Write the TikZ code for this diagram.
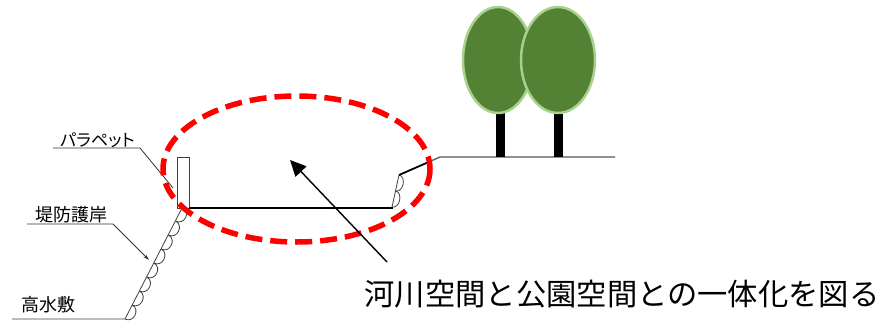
\documentclass[tikz,border=0pt]{standalone}
\usepackage{fontspec}
\newfontfamily\jp{Noto Sans CJK JP}
\newfontfamily\jpprop[RawFeature=+palt]{Noto Sans CJK JP}
\usetikzlibrary{arrows.meta}
\definecolor{crown}{HTML}{548235}
\definecolor{crownedge}{HTML}{A9D18E}
\definecolor{leader}{HTML}{333333}
\definecolor{groundgrey}{HTML}{555555}
\tikzset{
  lbl/.style={inner sep=0pt, font=\jp\fontsize{18}{18}\selectfont},
  caption/.style={inner sep=0pt, font=\jp\fontsize{30.3}{30.3}\selectfont},
  leaderline/.style={draw=leader, line width=0.8pt},
  thinline/.style={draw=black!75, line width=0.8pt},
  groundline/.style={draw=black, line width=2.2pt},
  redring/.style={draw=red, line width=5.5pt, dash pattern=on 17pt off 8pt},
  crownshape/.style={fill=crown, draw=crownedge, line width=2.5pt},
  trunk/.style={fill=black, draw=none},
  pointer/.style={draw=black, line width=1.4pt, -{Triangle[length=16pt,width=15pt]}},
}
\begin{document}
\begin{tikzpicture}[x=1pt,y=-1pt]
\useasboundingbox (0,0) rectangle (885,321);

% key points of the cross-section
\coordinate (slopeFoot) at (125,319);
\coordinate (slopeTop) at (182,208);
\coordinate (floorL) at (189,208);
\coordinate (floorR) at (393,208);
\coordinate (bankFoot) at (392,207);
\coordinate (bankTop) at (399,175);
\coordinate (bankEdge) at (431,161);
\coordinate (parkEdge) at (440,157);
\coordinate (parkEnd) at (615,157);

% labels
\node[lbl, anchor=base] (takasui) at (48.5,311) {高水敷};
\node[lbl, anchor=base] (gogan) at (71.5,221) {堤防護岸};
\node[inner sep=0pt, font=\jpprop\fontsize{17}{17}\selectfont, anchor=base] (parapet) at (97.5,146) {パラペット};
\node[caption, anchor=base] (goal) at (622,305) {河川空間と公園空間との一体化を図る};

% leader lines
\coordinate (takasuiStart) at (12,319);
\draw[thinline] (takasuiStart) -- (slopeFoot) -- (slopeTop);
\coordinate (goganStart) at (27,224);
\coordinate (goganBend) at (113,224);
\coordinate (goganTip) at (149,260);
\draw[leaderline, -{Stealth[length=6pt,width=3.5pt]}] (goganStart) -- (goganBend) -- (goganTip);
\coordinate (paraStart) at (53,148);
\coordinate (paraBend) at (140,148);
\coordinate (paraTip) at (173,188);
\draw[leaderline] (paraStart) -- (paraBend) -- (paraTip);

% revetment blocks on the levee face
\begin{scope}[shift={(slopeFoot)}, rotate=62.6]
  \foreach \i in {0,...,7} {
    \pgfmathsetmacro{\s}{\i*15.75}
    \pgfmathsetmacro{\e}{\s+15.75}
    \draw[thinline] (\s,0) .. controls (\s,9.5) and (\e,9.5) .. (\e,0);
  }
\end{scope}
\begin{scope}[shift={(bankFoot)}, rotate=77.7]
  \foreach \i in {0,1} {
    \pgfmathsetmacro{\s}{\i*16.4}
    \pgfmathsetmacro{\e}{\s+16.4}
    \draw[thinline] (\s,0) .. controls (\s,8) and (\e,8) .. (\e,0);
  }
\end{scope}

% parapet wall
\draw[thinline] (177,157) rectangle (189,208);

% river-side floor and far bank
\draw[groundline] (floorL) -- (floorR);
\draw[thinline] (bankFoot) -- (bankTop);
\draw[draw=black, line width=1.8pt] (bankTop) -- (bankEdge);
\draw[draw=groundgrey, line width=1.3pt] (bankEdge) -- (parkEdge) -- (parkEnd);

% trees in the park
\fill[trunk] (496,113) rectangle (505,157);
\fill[trunk] (554,113) rectangle (563,157);
\draw[crownshape] (498,60) ellipse [x radius=35, y radius=53];
\draw[crownshape] (558,60) ellipse [x radius=37, y radius=53];

% integration zone and pointer
\draw[redring] (296.5,169) ellipse [x radius=133.5, y radius=73];
\coordinate (pointerTail) at (387,262);
\coordinate (pointerTip) at (290,160);
\draw[pointer] (pointerTail) -- (pointerTip);
\end{tikzpicture}
\end{document}
